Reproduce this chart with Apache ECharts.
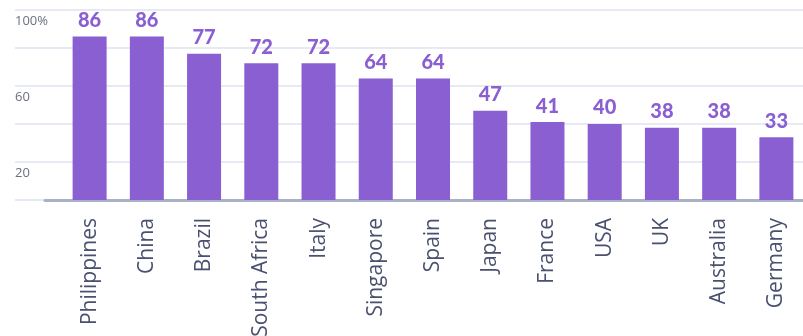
<!DOCTYPE html>
<html>
<head>
<meta charset="utf-8">
<script src="https://cdn.jsdelivr.net/npm/echarts@6/dist/echarts.min.js"></script>
<style>
  html, body { margin: 0; padding: 0; background: #ffffff; }
  #chart { width: 803px; height: 336px; }
</style>
</head>
<body>
<div id="chart"></div>
<script>
// Share of respondents by country (percent)
const countries = ['Philippines', 'China', 'Brazil', 'South Africa', 'Italy', 'Singapore', 'Spain',
                   'Japan', 'France', 'USA', 'UK', 'Australia', 'Germany'];
const shares = [86, 86, 77, 72, 72, 64, 64, 47, 41, 40, 38, 38, 33];
const tickLabels = { 100: '100%', 60: '60', 20: '20' };

const FONT = '"Open Sans", Lato, sans-serif';
const BAR = '#8a5fd2';

const chart = echarts.init(document.getElementById('chart'), null, { renderer: 'canvas' });

chart.setOption({
  animation: false,
  grid: [
    // bars (long rotated names may run past the bottom edge)
    { left: 61, right: -2, top: 10, bottom: 136, outerBoundsMode: 'none' },
    // horizontal gridlines + tick labels
    { left: 15, right: 0, top: 10, bottom: 136, outerBoundsMode: 'none' },
    // baseline
    { left: 45, right: 0, top: 10, bottom: 136, outerBoundsMode: 'none' }
  ],
  xAxis: [
    {
      gridIndex: 0, type: 'category', data: countries,
      axisLine: { show: false }, axisTick: { show: false },
      axisLabel: {
        rotate: 90, margin: 18, fontFamily: FONT, fontSize: 21, fontWeight: 500,
        color: '#4a5170', interval: 0
      }
    },
    { gridIndex: 1, type: 'value', show: false },
    {
      gridIndex: 2, type: 'value', min: 0, max: 1,
      axisLine: { show: true, lineStyle: { color: '#a9b1c9', width: 3 } },
      axisTick: { show: false }, axisLabel: { show: false }, splitLine: { show: false }
    }
  ],
  yAxis: [
    { gridIndex: 0, type: 'value', min: 0, max: 100, show: false },
    {
      gridIndex: 1, type: 'value', min: 0, max: 100, interval: 20,
      axisLine: { show: false }, axisTick: { show: false },
      splitLine: { lineStyle: { color: '#dce3f1', width: 1.5 } },
      axisLabel: {
        inside: true, margin: 0, verticalAlign: 'top', padding: [5, 0, 0, 0],
        fontFamily: FONT, fontSize: 13, color: '#6b7080',
        formatter: v => tickLabels[v] || ''
      }
    },
    { gridIndex: 2, type: 'value', min: 0, max: 1, show: false }
  ],
  series: [
    {
      type: 'bar', xAxisIndex: 0, yAxisIndex: 0, data: shares,
      barWidth: 34, itemStyle: { color: BAR },
      label: {
        show: true, position: 'top', distance: 6,
        fontFamily: 'Lato, sans-serif', fontWeight: 900, fontSize: 20, color: '#8a5fd2'
      },
      z: 3
    }
  ]
});
</script>
</body>
</html>
